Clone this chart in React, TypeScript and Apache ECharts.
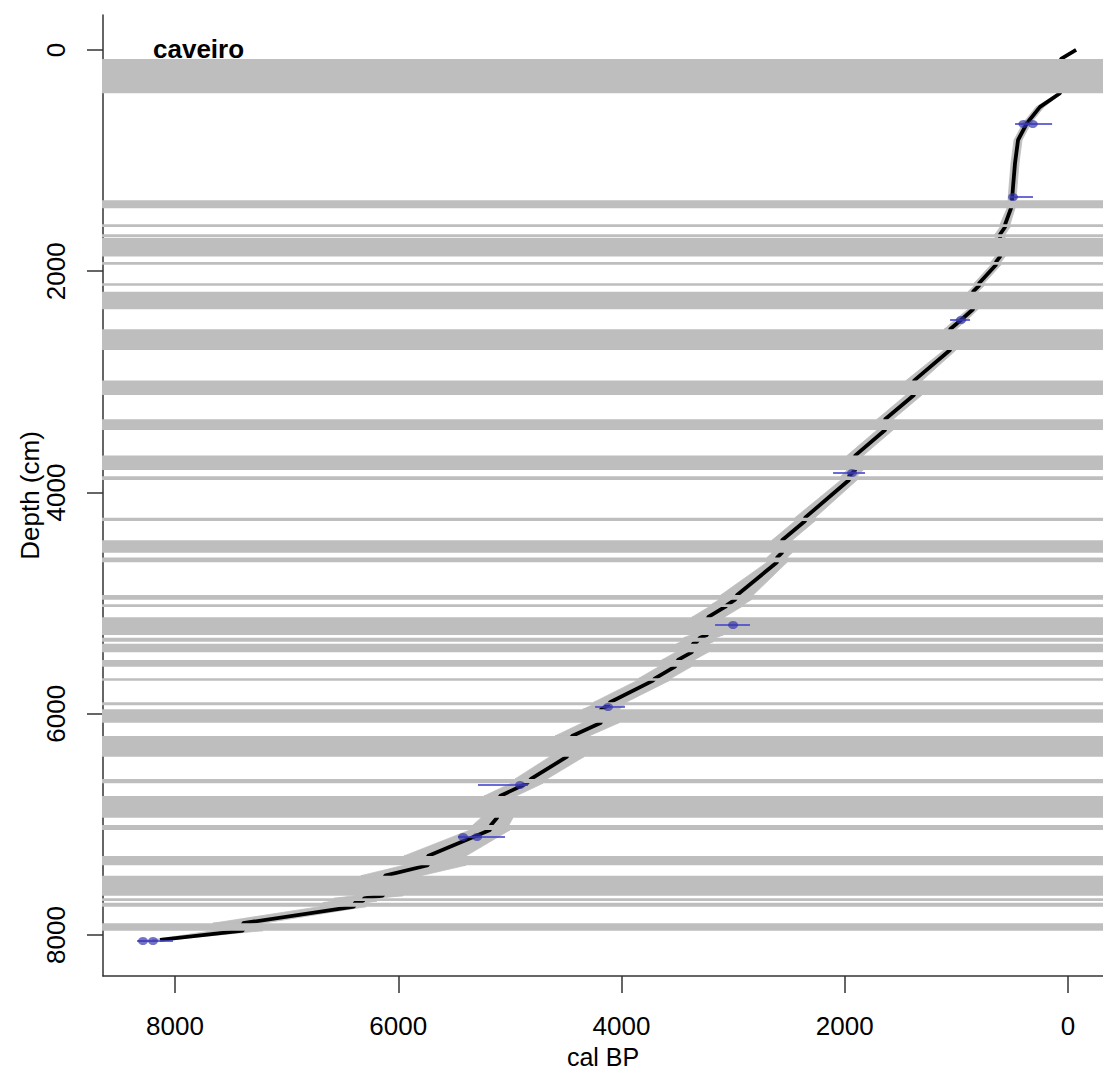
import React, { useEffect, useRef } from "react";
import * as echarts from "echarts";

// Age-depth model (mean), cal BP vs depth (cm)
const curveAge = [-72, 63, 72, 251, 367, 448, 475, 493, 502, 511, 564, 564, 609, 609, 645, 645, 797, 797, 851, 851, 959, 1057, 1057, 1380, 1380, 1639, 1639, 1908, 1908, 1962, 1962, 2356, 2356, 2562, 2562, 2607, 2607, 2965, 2983, 3046, 3073, 3225, 3234, 3297, 3324, 3360, 3369, 3494, 3521, 3700, 3718, 4103, 4121, 4184, 4184, 4443, 4488, 4811, 4847, 5088, 5115, 5169, 5178, 5734, 5734, 6119, 6137, 6307, 6316, 6388, 6396, 7391, 7391, 8134];
const curveDepth = [0, 81, 391, 515, 660, 814, 1021, 1238, 1359, 1431, 1576, 1600, 1666, 1868, 1916, 1941, 2109, 2131, 2185, 2344, 2441, 2525, 2712, 2989, 3119, 3338, 3435, 3667, 3797, 3854, 3887, 4228, 4258, 4432, 4544, 4589, 4631, 4927, 4969, 5011, 5035, 5128, 5288, 5313, 5349, 5367, 5444, 5514, 5575, 5680, 5701, 5896, 5924, 5960, 6081, 6201, 6388, 6590, 6629, 6744, 6940, 7006, 7051, 7286, 7370, 7464, 7645, 7669, 7693, 7708, 7744, 7894, 7961, 8045];
// Uncertainty envelope (youngest / oldest age at each model depth)
const envYoung = [-72, 54, 54, 215, 331, 412, 439, 457, 466, 475, 519, 519, 564, 564, 600, 600, 752, 752, 806, 806, 905, 1003, 1003, 1308, 1308, 1567, 1567, 1836, 1836, 1890, 1890, 2266, 2266, 2472, 2472, 2517, 2517, 2820, 2838, 2901, 2928, 3080, 3089, 3152, 3179, 3215, 3224, 3349, 3376, 3555, 3573, 3958, 3976, 4021, 4021, 4290, 4335, 4668, 4704, 4945, 4972, 5008, 4999, 5394, 5394, 5796, 5958, 6182, 6191, 6280, 6288, 7212, 7212, 8062];
const envOld = [-72, 72, 90, 287, 403, 484, 511, 529, 538, 547, 609, 609, 654, 654, 690, 690, 842, 842, 896, 896, 1013, 1111, 1111, 1452, 1452, 1711, 1711, 1980, 1980, 2034, 2034, 2446, 2446, 2652, 2652, 2697, 2697, 3110, 3128, 3191, 3218, 3370, 3379, 3442, 3469, 3505, 3514, 3639, 3666, 3845, 3863, 4248, 4266, 4347, 4347, 4596, 4641, 4954, 4990, 5231, 5258, 5330, 5357, 5949, 5949, 6334, 6388, 6576, 6585, 6675, 6701, 7660, 7660, 8206];

// Slump layers (depth cm)
const bandTop = [81, 1359, 1576, 1666, 1697, 1916, 2109, 2185, 2525, 2989, 3338, 3667, 3854, 4228, 4432, 4589, 4927, 5011, 5128, 5313, 5367, 5514, 5680, 5896, 5960, 6201, 6590, 6744, 7006, 7286, 7464, 7669, 7708, 7894];
const bandBottom = [391, 1431, 1600, 1691, 1868, 1941, 2131, 2344, 2712, 3119, 3435, 3797, 3887, 4258, 4544, 4631, 4969, 5035, 5288, 5349, 5444, 5575, 5701, 5924, 6081, 6388, 6629, 6940, 7051, 7370, 7645, 7693, 7744, 7961];

// Dated levels
const dateDepth = [669, 1329, 2441, 3824, 5198, 5939, 6644, 7114, 8054];
const dateYoung = [143, 314, 878, 1819, 2849, 3969, 4838, 5044, 8018];
const dateOld = [475, 520, 1057, 2105, 3162, 4237, 5286, 5465, 8340];
const blobAge = [400, 316, 493, 959, 1935, 3001, 4121, 4909, 5420, 5294, 8287, 8197];
const blobDepth = [669, 669, 1329, 2441, 3824, 5198, 5939, 6644, 7114, 7114, 8054, 8054];

const xTicks = [0, 2000, 4000, 6000, 8000];
const yTicks = [0, 2000, 4000, 6000, 8000];

const FONT = '"Liberation Sans", Arial, Helvetica, sans-serif';
const GREY = "#bebebe";

export default function App() {
  const ref = useRef<HTMLDivElement>(null);

  useEffect(() => {
    const chart = echarts.init(ref.current as HTMLDivElement, null, { renderer: "svg" });

    const curveData = curveAge.map((a, i) => [a, curveDepth[i]]);
    const envData = curveDepth.slice(0, -1).map((d, i) => [
      envYoung[i], envOld[i], d,
      envYoung[i + 1], envOld[i + 1], curveDepth[i + 1],
    ]);
    const bandData = bandTop.map((t, i) => [0, t, bandBottom[i]]);
    const barData = dateDepth.map((d, i) => [dateYoung[i], d, dateOld[i]]);
    const blobData = blobAge.map((a, i) => [a, blobDepth[i]]);
    const yLabelData = yTicks.map((t) => [0, t]);
    const plain = (v: number) => String(Math.round(v));

    const option: any = {
      animation: false,
      backgroundColor: "#ffffff",
      grid: { left: 103, right: 0, top: 15, bottom: 94, containLabel: false, outerBoundsMode: "none" },
      xAxis: {
        type: "value",
        inverse: true,
        min: -313,
        max: 8645,
        name: "cal BP",
        nameLocation: "middle",
        nameGap: 64,
        nameTextStyle: { fontSize: 25, lineHeight: 26, color: "#000", fontFamily: FONT },
        axisLine: { show: true, onZero: false, lineStyle: { color: "#333", width: 1.5 } },
        axisTick: { show: true, length: 17, customValues: xTicks, lineStyle: { color: "#333", width: 1.5 } },
        axisLabel: { customValues: xTicks, formatter: plain, fontSize: 26, color: "#000", margin: 37, fontFamily: FONT },
        splitLine: { show: false },
      },
      yAxis: {
        type: "value",
        inverse: true,
        min: -316,
        max: 8371,
        name: "Depth (cm)",
        nameLocation: "middle",
        nameGap: 60,
        nameRotate: 90,
        nameTextStyle: { fontSize: 26, color: "#000", fontFamily: FONT },
        axisLine: { show: true, onZero: false, lineStyle: { color: "#333", width: 1.5 } },
        axisTick: { show: true, length: 16, customValues: yTicks, lineStyle: { color: "#333", width: 1.5 } },
        axisLabel: { show: false, customValues: yTicks },
        splitLine: { show: false },
      },
      graphic: [
        {
          type: "text",
          x: 153,
          y: 49,
          z: 100,
          style: {
            text: "caveiro",
            fill: "#000",
            font: `bold 26px ${FONT}`,
            verticalAlign: "middle",
          },
        },
      ],
      series: [
        {
          type: "custom",
          name: "envelope",
          z: 1,
          silent: true,
          data: envData,
          encode: { x: [0, 1, 3, 4], y: [2, 5] },
          renderItem: (params: any, api: any) => {
            const p1 = api.coord([api.value(0), api.value(2)]);
            const p2 = api.coord([api.value(1), api.value(2)]);
            const p3 = api.coord([api.value(4), api.value(5)]);
            const p4 = api.coord([api.value(3), api.value(5)]);
            return {
              type: "polygon",
              shape: { points: [p1, p2, p3, p4] },
              style: { fill: GREY, stroke: GREY, lineWidth: 0.8 },
            };
          },
        },
        {
          type: "line",
          name: "mean",
          z: 2,
          data: curveData,
          showSymbol: false,
          symbol: "none",
          lineStyle: { color: "#000", width: 3.8 },
          silent: true,
        },
        {
          type: "custom",
          name: "slumps",
          z: 3,
          silent: true,
          data: bandData,
          encode: { x: 0, y: [1, 2] },
          renderItem: (params: any, api: any) => {
            const a = api.coord([0, api.value(1)]);
            const b = api.coord([0, api.value(2)]);
            const cs = params.coordSys;
            return {
              type: "rect",
              shape: { x: cs.x - 1, y: a[1], width: cs.width + 2, height: b[1] - a[1] },
              style: { fill: GREY },
            };
          },
        },
        {
          type: "custom",
          name: "errors",
          z: 4,
          silent: true,
          data: barData,
          encode: { x: [0, 2], y: 1 },
          renderItem: (params: any, api: any) => {
            const a = api.coord([api.value(0), api.value(1)]);
            const b = api.coord([api.value(2), api.value(1)]);
            return {
              type: "line",
              shape: { x1: a[0], y1: a[1], x2: b[0], y2: b[1] },
              style: { stroke: "rgba(70,70,205,0.8)", lineWidth: 2 },
            };
          },
        },
        {
          type: "scatter",
          name: "dates",
          z: 5,
          silent: true,
          data: blobData,
          symbol: "circle",
          symbolSize: [10, 8],
          itemStyle: { color: "rgba(50,50,170,0.85)" },
        },
        {
          type: "custom",
          name: "depthLabels",
          z: 6,
          silent: true,
          clip: false,
          data: yLabelData,
          encode: { x: 0, y: 1 },
          renderItem: (params: any, api: any) => {
            const p = api.coord([0, api.value(1)]);
            const cs = params.coordSys;
            return {
              type: "text",
              x: cs.x - 47,
              y: p[1],
              rotation: Math.PI / 2,
              style: {
                text: String(api.value(1)),
                fill: "#000",
                font: `26px ${FONT}`,
                align: "center",
                verticalAlign: "middle",
              },
            };
          },
        },
      ],
    };

    chart.setOption(option);
    return () => chart.dispose();
  }, []);

  return (
    <div
      ref={ref}
      style={{ position: "absolute", left: 0, top: 0, width: 1103, height: 1070, background: "#fff" }}
    />
  );
}
